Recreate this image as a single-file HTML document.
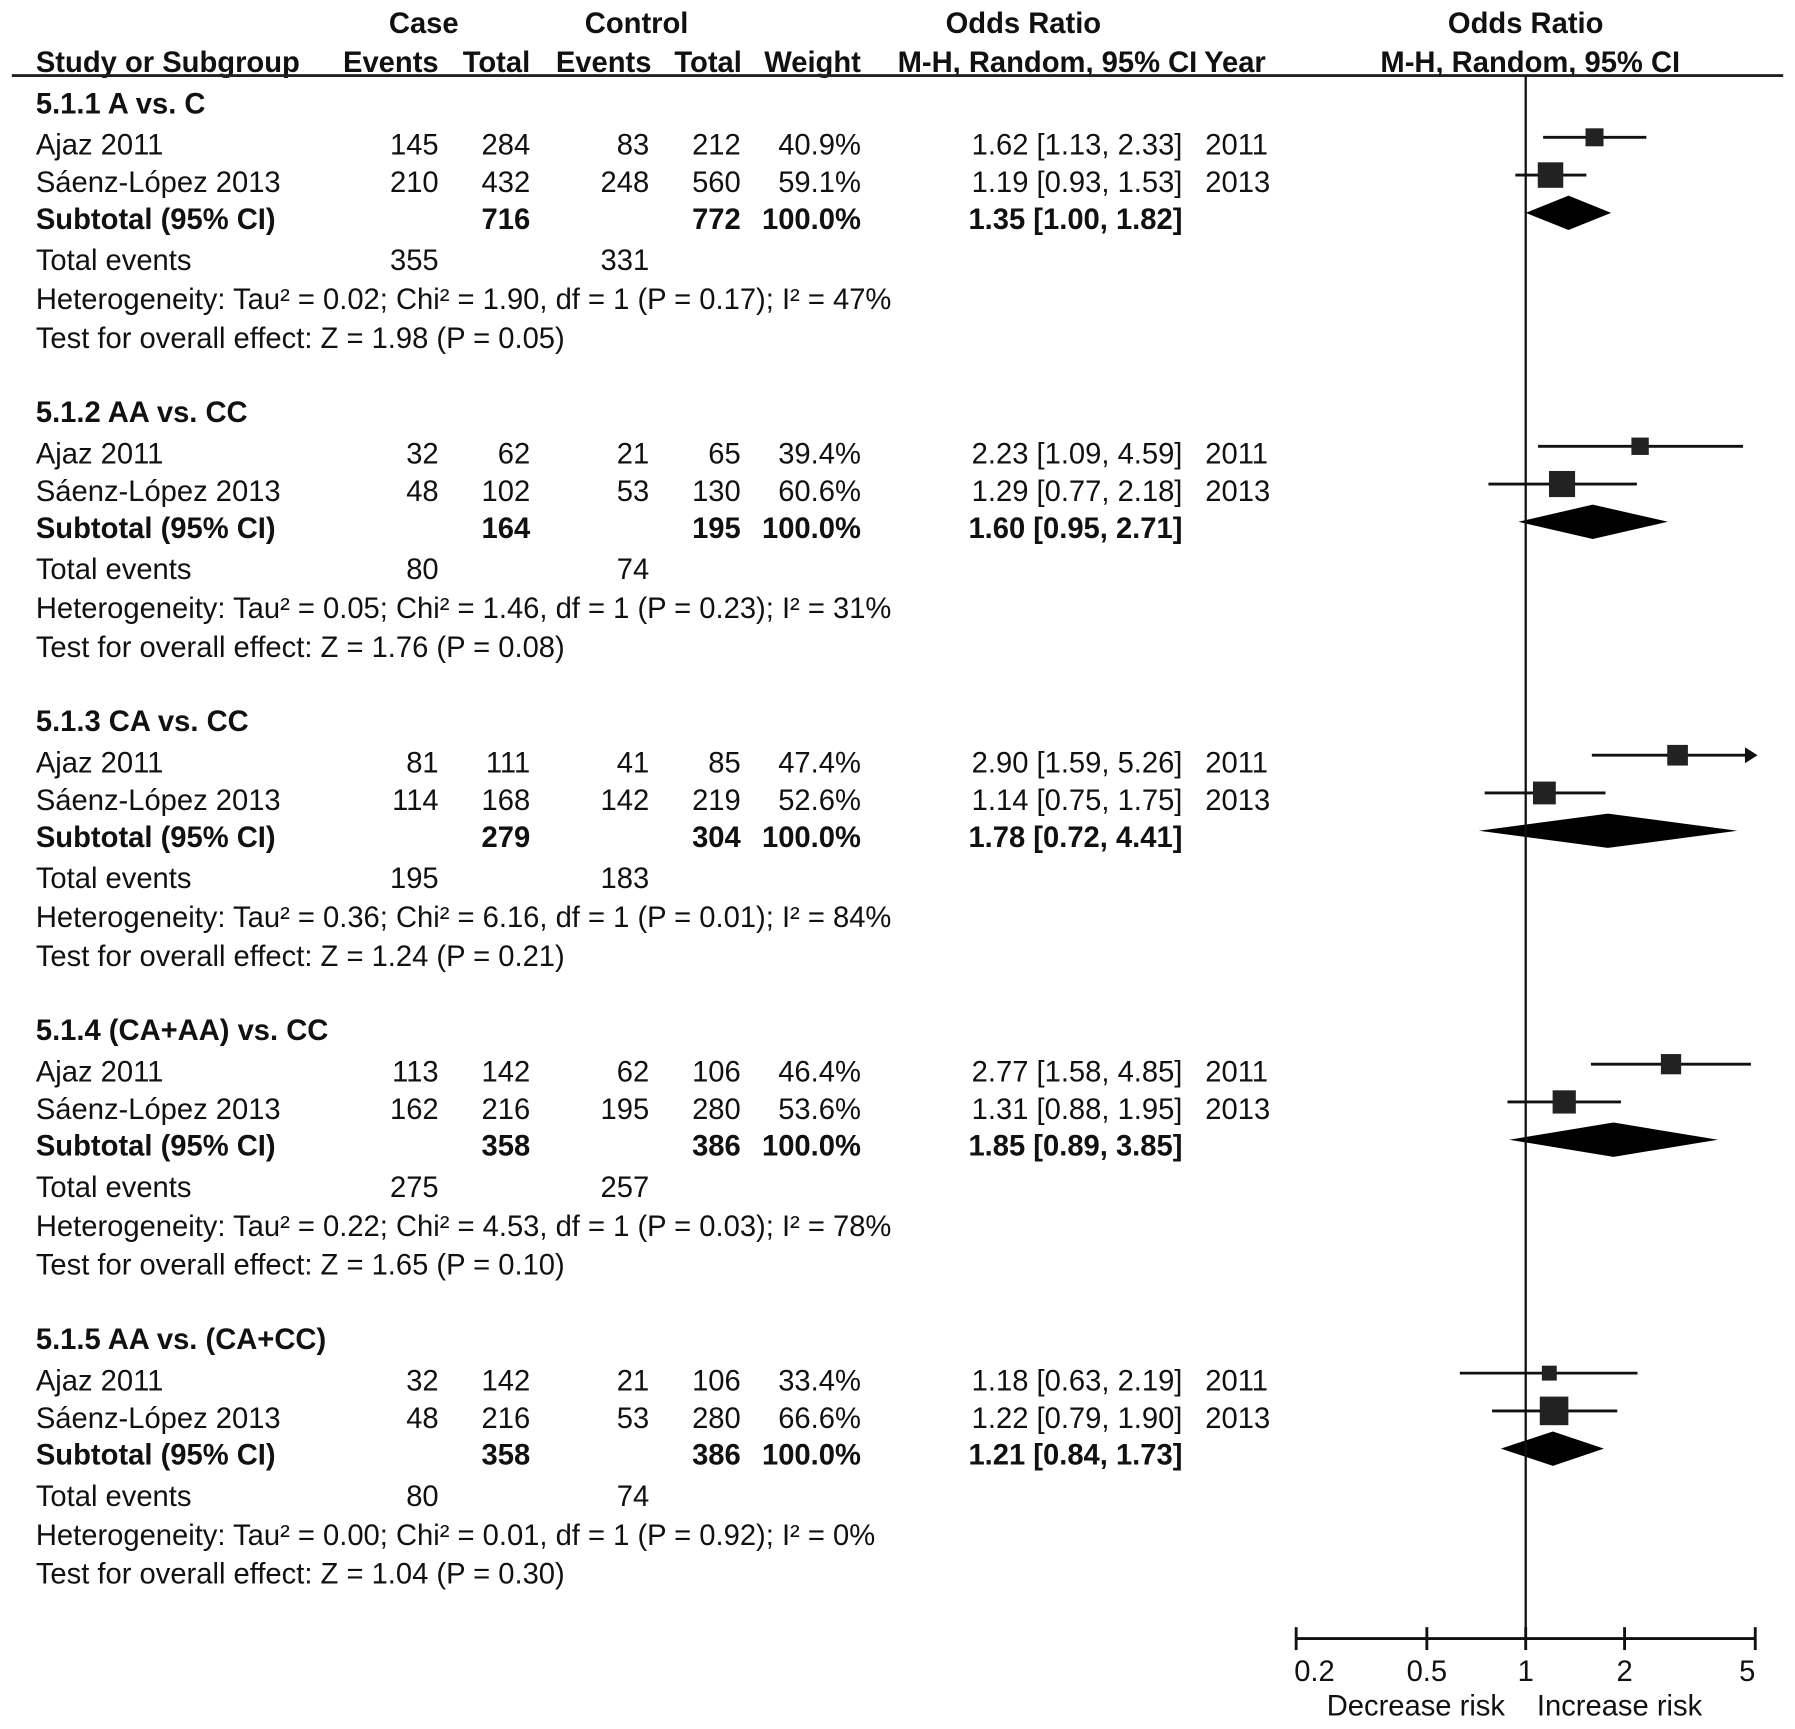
<!DOCTYPE html>
<html><head><meta charset="utf-8"><style>
html,body{margin:0;padding:0;background:#fff}
svg{display:block}
text{font-family:"Liberation Sans",Arial,sans-serif;font-size:25.5px;fill:#111}
.b{font-weight:bold}
</style></head><body>
<svg id="chart" width="1795" height="1729" viewBox="0 0 1568 1511" xmlns="http://www.w3.org/2000/svg">
<g>
<text class="b" x="370" y="29" text-anchor="middle">Case</text>
<text class="b" x="556" y="29" text-anchor="middle">Control</text>
<text class="b" x="894" y="29" text-anchor="middle">Odds Ratio</text>
<text class="b" x="1333" y="29" text-anchor="middle">Odds Ratio</text>
<text class="b" x="31" y="63">Study or Subgroup</text>
<text class="b" x="383" y="63" text-anchor="end">Events</text>
<text class="b" x="463" y="63" text-anchor="end">Total</text>
<text class="b" x="569" y="63" text-anchor="end">Events</text>
<text class="b" x="648" y="63" text-anchor="end">Total</text>
<text class="b" x="752" y="63" text-anchor="end">Weight</text>
<text class="b" x="1046" y="63" text-anchor="end">M-H, Random, 95% CI</text>
<text class="b" x="1052" y="63">Year</text>
<text class="b" x="1337" y="63" text-anchor="middle">M-H, Random, 95% CI</text>
</g>
<line x1="10" y1="66" x2="1558" y2="66" stroke="#222" stroke-width="2.5"/>
<g id="rows" transform="translate(0,2)"></g>
<g id="marks" transform="translate(0,2)"></g>
<g id="axis"></g>
</svg>
<script>
const groups = ["5.1.1 A vs. C","5.1.2 AA vs. CC","5.1.3 CA vs. CC","5.1.4 (CA+AA) vs. CC","5.1.5 AA vs. (CA+CC)"];
const studies = ["Ajaz 2011","Sáenz-López 2013"];
const years = ["2011","2013"];
const caseEvents = [[145,210],[32,48],[81,114],[113,162],[32,48]];
const caseTotal = [[284,432],[62,102],[111,168],[142,216],[142,216]];
const ctrlEvents = [[83,248],[21,53],[41,142],[62,195],[21,53]];
const ctrlTotal = [[212,560],[65,130],[85,219],[106,280],[106,280]];
const weights = [[40.9,59.1],[39.4,60.6],[47.4,52.6],[46.4,53.6],[33.4,66.6]];
const orVal = [[1.62,1.19],[2.23,1.29],[2.90,1.14],[2.77,1.31],[1.18,1.22]];
const orLo = [[1.13,0.93],[1.09,0.77],[1.59,0.75],[1.58,0.88],[0.63,0.79]];
const orHi = [[2.33,1.53],[4.59,2.18],[5.26,1.75],[4.85,1.95],[2.19,1.90]];
const subVal = [1.35,1.60,1.78,1.85,1.21];
const subLo = [1.00,0.95,0.72,0.89,0.84];
const subHi = [1.82,2.71,4.41,3.85,1.73];
const subCaseTotal = [716,164,279,358,358];
const subCtrlTotal = [772,195,304,386,386];
const totCase = [355,80,195,275,80];
const totCtrl = [331,74,183,257,74];
const hetText = ["Tau² = 0.02; Chi² = 1.90, df = 1 (P = 0.17); I² = 47%","Tau² = 0.05; Chi² = 1.46, df = 1 (P = 0.23); I² = 31%","Tau² = 0.36; Chi² = 6.16, df = 1 (P = 0.01); I² = 84%","Tau² = 0.22; Chi² = 4.53, df = 1 (P = 0.03); I² = 78%","Tau² = 0.00; Chi² = 0.01, df = 1 (P = 0.92); I² = 0%"];
const zText = ["Z = 1.98 (P = 0.05)","Z = 1.76 (P = 0.08)","Z = 1.24 (P = 0.21)","Z = 1.65 (P = 0.10)","Z = 1.04 (P = 0.30)"];
const ticks = [0.2,0.5,1,2,5];
const tickLabels = ["0.2","0.5","1","2","5"];
const tickLabelShift = [16,0,0,0,-7];

const NS="http://www.w3.org/2000/svg";
const X0=1333, DEC=287, XMIN=0.2, XMAX=5;
function xs(v){return X0+DEC*Math.log10(v);}
function mk(tag,attrs,parent,txt){const e=document.createElementNS(NS,tag);for(const k in attrs)e.setAttribute(k,attrs[k]);if(txt!==undefined)e.textContent=txt;parent.appendChild(e);return e;}
const rows=document.getElementById('rows'), marks=document.getElementById('marks'), axis=document.getElementById('axis');
function t(x,y,s,anchor,bold,name){const e=mk('text',{x:x,y:y,'text-anchor':anchor||'start'},rows,s);if(bold)e.setAttribute('class','b');


return e;}
const f2=v=>v.toFixed(2);
groups.forEach((g,gi)=>{
  const base=89+gi*270;
  t(31,base+8,g,'start',true,'subgroup-title');
  for(let s=0;s<2;s++){
    const y=base+36+s*33, by=y+8;
    t(31,by,studies[s],'start',false,'study-name');
    t(383,by,caseEvents[gi][s],'end',false,'case-events');
    t(463,by,caseTotal[gi][s],'end',false,'case-total');
    t(567,by,ctrlEvents[gi][s],'end',false,'control-events');
    t(647,by,ctrlTotal[gi][s],'end',false,'control-total');
    t(752,by,weights[gi][s].toFixed(1)+'%','end',false,'weight');
    t(1033,by,f2(orVal[gi][s])+' ['+f2(orLo[gi][s])+', '+f2(orHi[gi][s])+']','end',false,'odds-ratio-ci');
    t(1053,by,years[s],'start',false,'study-year');
    const my=y-7;
    const lo=Math.max(orLo[gi][s],XMIN), hi=Math.min(orHi[gi][s],XMAX);
    const l=mk('line',{x1:xs(lo),x2:xs(hi),y1:my,y2:my,stroke:'#111','stroke-width':2.5},marks);
    
    
    if(orHi[gi][s]>XMAX){const a=mk('polygon',{points:(xs(XMAX)+2)+','+my+' '+(xs(XMAX)-9)+','+(my-7)+' '+(xs(XMAX)-9)+','+(my+7),fill:'#111'},marks);
      
      }
    const sz=0.36*weights[gi][s]+1, cx=xs(orVal[gi][s]);
    const r=mk('rect',{x:cx-sz/2,y:my-sz/2,width:sz,height:sz,fill:'#222'},marks);
    
    
  }
  const sy=base+101, sby=sy+8;
  t(31,sby,'Subtotal (95% CI)','start',true,'subtotal-label');
  t(463,sby,subCaseTotal[gi],'end',true,'subtotal-case-total');
  t(647,sby,subCtrlTotal[gi],'end',true,'subtotal-control-total');
  t(752,sby,'100.0%','end',true,'subtotal-weight');
  t(1033,sby,f2(subVal[gi])+' ['+f2(subLo[gi])+', '+f2(subHi[gi])+']','end',true,'subtotal-odds-ratio');
  const dy=sy-6;
  const d=mk('polygon',{points:xs(subLo[gi])+','+dy+' '+xs(subVal[gi])+','+(dy-15)+' '+xs(subHi[gi])+','+dy+' '+xs(subVal[gi])+','+(dy+15),fill:'#000'},marks);
  
  
  t(31,base+145,'Total events','start',false,'total-events-label');
  t(383,base+145,totCase[gi],'end',false,'total-case-events');
  t(567,base+145,totCtrl[gi],'end',false,'total-control-events');
  t(31,base+179,'Heterogeneity: '+hetText[gi],'start',false,'heterogeneity');
  t(31,base+213,'Test for overall effect: '+zText[gi],'start',false,'overall-effect');
});
const vl=mk('line',{x1:X0,x2:X0,y1:66,y2:1432,stroke:'#111','stroke-width':2},axis);


const al=mk('line',{x1:xs(XMIN),x2:xs(XMAX),y1:1432,y2:1432,stroke:'#111','stroke-width':2.5},axis);


ticks.forEach((v,i)=>{
  const tk=mk('line',{x1:xs(v),x2:xs(v),y1:1422,y2:1442,stroke:'#111','stroke-width':2.5},axis);
  
  
  const lb=mk('text',{x:xs(v)+tickLabelShift[i],y:1469,'text-anchor':'middle'},axis,tickLabels[i]);
  
  
});
const dl=mk('text',{x:1237,y:1499,'text-anchor':'middle'},axis,'Decrease risk');


const il=mk('text',{x:1415,y:1499,'text-anchor':'middle'},axis,'Increase risk');


</script>
</body></html>
